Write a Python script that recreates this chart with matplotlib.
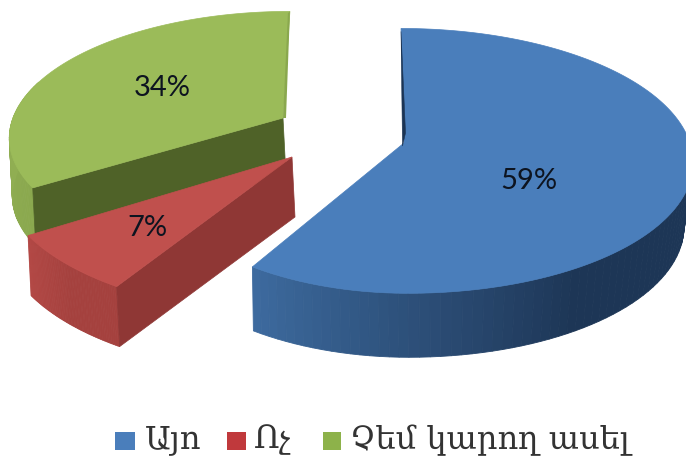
import numpy as np
import matplotlib
matplotlib.use("Agg")
import matplotlib.pyplot as plt
from matplotlib.colors import to_rgb

# Data
labels = ['Այո', 'Ոչ', 'Չեմ կարող ասել']
shares = [59, 7, 34]
pct_labels = ['59%', '7%', '34%']

# Pie colors: top face, cut face, rim at the near end, rim at the far end
top_colors = ['#4a7ebb', '#c0504d', '#9bbb59']
cut_colors = ['#1b3454', '#8f3735', '#4f6228']
rim_near = ['#1d3656', '#a5413e', '#8aa84e']
rim_far = ['#3d6a9e', '#b34845', '#90ae52']
legend_colors = ['#4a7ebb', '#c0393c', '#8db24a']

# Exploded slice layout, in pixels
centers = [(404, 143), (292, 157), (283, 118)]
x_right = [286, 290, 270]
x_left = [256, 290, 270]
y_scale = [130, 136, 121]
lean = [0.026, 0.0, -0.065]
DEPTH = [64, 60, 58]
DEPTH_DX = [1, 3, 3]
PERSP = 0.135

fig = plt.figure(figsize=(6.86, 4.62), dpi=100)
ax = fig.add_axes([0, 0, 1, 1])
ax.set_xlim(0, 686)
ax.set_ylim(462, 0)
ax.axis('off')


# Project an angle (clockwise from 12 o'clock) onto the tilted pie disc
def rim_point(i, theta, shrink=1.0):
    u, v = np.sin(theta), np.cos(theta)
    w = 1 + PERSP * v
    b = np.where(u >= 0, x_right[i] * shrink, x_left[i])
    dy = -y_scale[i] * v / w
    return centers[i][0] + b * u / w + lean[i] * dy, centers[i][1] + dy


# Side of the slice between two angles, shaded from one color to another
def draw_rim(i, t0, t1, c0, c1, shrink=1.0, n=60):
    ts = np.linspace(t0, t1, n + 1)
    c0, c1 = np.array(to_rgb(c0)), np.array(to_rgb(c1))
    for k in range(n):
        seg = ts[k:k + 2]
        xt, yt = rim_point(i, seg)
        xb, yb = rim_point(i, seg, shrink)
        xs = np.r_[xt, (xb + DEPTH_DX[i])[::-1]]
        ys = np.r_[yt, (yb + DEPTH[i])[::-1]]
        col = c0 + (c1 - c0) * min(k / (n * 0.55), 1)
        ax.fill(xs, ys, color=col, lw=0.6, zorder=i * -3 + 6)


def draw_cut(i, theta):
    x, y = rim_point(i, np.array([theta]))
    cx, cy = centers[i]
    dx, d = DEPTH_DX[i], DEPTH[i]
    ax.fill([cx, x[0], x[0] + dx, cx + dx], [cy, y[0], y[0] + d, cy + d],
            color=cut_colors[i], lw=0.5, zorder=i * -3 + 6)


def draw_top(i, t0, t1):
    ts = np.linspace(t0, t1, 200)
    x, y = rim_point(i, ts)
    ax.fill(np.r_[centers[i][0], x], np.r_[centers[i][1], y],
            color=top_colors[i], lw=0.5, zorder=i * -3 + 7)


# Slice angles from the shares, starting at 12 o'clock
edges = np.cumsum([0] + shares) / 100 * 2 * np.pi

# Blue slice: rim runs from its end round to the right side
draw_rim(0, edges[1], np.radians(98), rim_far[0], rim_near[0], shrink=0.965)
draw_top(0, edges[0], edges[1])
# thin dark cut face along the start edge
x0, y0 = rim_point(0, np.array([0.0]))
ax.fill([x0[0], centers[0][0] - 1.5, centers[0][0] + 1.5],
        [y0[0] + 3, centers[0][1] + 3, centers[0][1] - 10],
        color=cut_colors[0], lw=0.4, zorder=7.5)

# Red slice
draw_rim(1, edges[2], edges[1], rim_far[1], rim_near[1])
draw_cut(1, edges[1])
draw_top(1, edges[1], edges[2])

# Green slice
draw_rim(2, edges[2], np.radians(288), rim_near[2], rim_far[2])
draw_cut(2, edges[2])
draw_top(2, edges[2], edges[3])
x0, y0 = rim_point(2, np.array([0.0]))
ax.fill([x0[0], x0[0] - 2, centers[2][0], centers[2][0] + 3],
        [y0[0], y0[0] + 2, centers[2][1], centers[2][1]],
        color='#8aa84e', lw=0, zorder=1.5)

# Percent labels
pct_x = [529, 147, 162]
pct_y = [181, 228, 88]
for i in range(3):
    ax.text(pct_x[i], pct_y[i], pct_labels[i], family='Lato', fontsize=21,
            color='#0d1420', ha='center', va='center', zorder=10)

# Legend
box_x = [115, 227, 323]
box_w = [20, 19, 18]
text_x = [145, 254, 350]
for i in range(3):
    ax.fill([box_x[i], box_x[i] + box_w[i], box_x[i] + box_w[i], box_x[i]],
            [432, 432, 450, 450], color=legend_colors[i], lw=0)
    ax.text(text_x[i], 440, labels[i], family='DejaVu Serif', fontsize=23,
            color='#333333', ha='left', va='center')

fig.savefig('out.png', dpi=100)
